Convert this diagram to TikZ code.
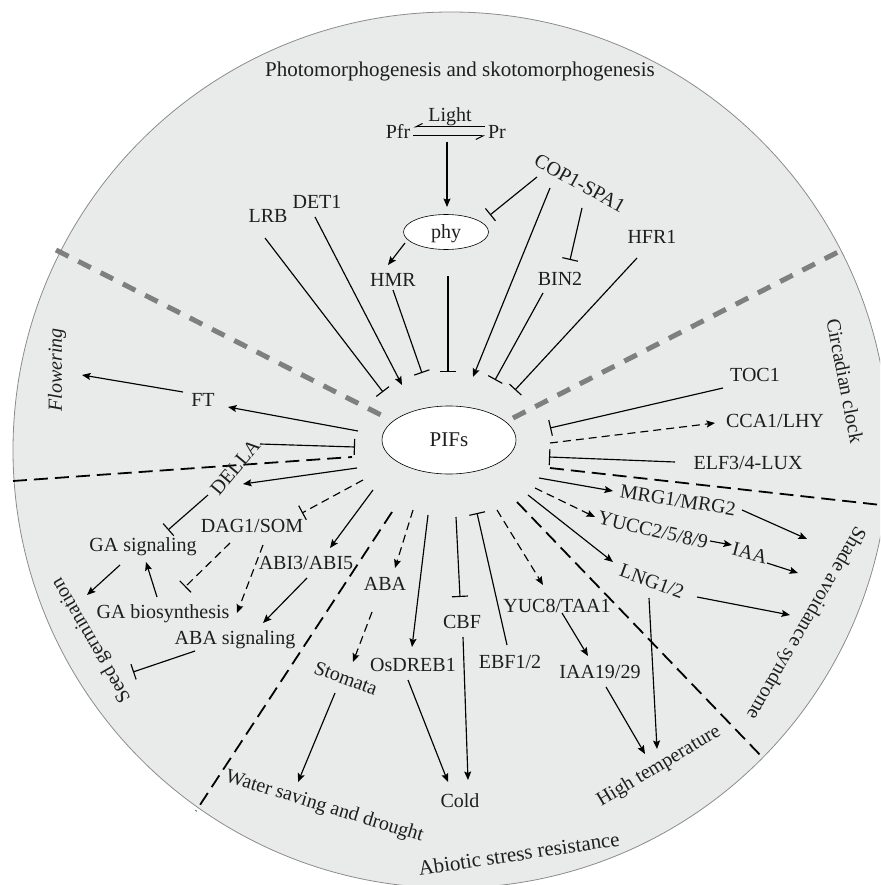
\documentclass[tikz,border=0pt]{standalone}
\usepackage{fontspec}
\setmainfont{Liberation Serif}
\usetikzlibrary{arrows.meta,shapes.geometric}
\definecolor{bgc}{HTML}{E9EAEA}
\definecolor{rimc}{HTML}{8C8C8C}
\definecolor{grayd}{HTML}{7F7F7F}
\definecolor{txt}{HTML}{1E1E1E}
\begin{document}
\begin{tikzpicture}[x=1pt,y=-1pt,
  lbl/.style={font=\fontsize{20pt}{24pt}\selectfont, text=txt, inner sep=3pt, text height=13.5pt, text depth=0pt},
  oval/.style={ellipse, draw=black, line width=0.6pt, fill=white, inner sep=0pt},
  act/.style={line width=1.15pt, -{Stealth[length=8.5pt,width=7pt,inset=1.5pt]}},
  inh/.style={line width=1.15pt, -{Bar[width=16pt]}},
  dact/.style={act, dash pattern=on 8pt off 5pt},
  dinh/.style={inh, dash pattern=on 8pt off 5pt},
  sector/.style={line width=5pt, draw=grayd, dash pattern=on 14pt off 11pt},
  divider/.style={line width=1.8pt, dash pattern=on 14pt off 7pt},
  harp/.style={line width=1pt, -{Straight Barb[right,length=7pt,width=7pt]}}
]
\useasboundingbox (0,0) rectangle (880,885);

% ---- named end points of connectors ----
\foreach \n/\x/\y in {
 eqm/447/142, phyIn/447/207, copA/537/177, copB/490/215, copC/550/188, pCOP/473/377,
 copD/582/208, binT/570/260, phyA/405/243, hmrT/388/265, hmrA/393/290, pHMR/422/373,
 phyB/448/276, pPHY/448/372, detA/315/217, pDET/402/385, lrbA/265/238, pLRB/383/392,
 binA/543/293, pBIN/495/380, hfrA/637/258, pHFR/515/390,
 tocA/723/388, pTOC/550/428, pCCA/550/443, ccaT/715/423, elfA/675/462, pELF/549/457,
 pMRG/539/478, mrgT/613/491, mrgA/742/510, shA/807/539, pYUCC/535/488, yuccT/595/517,
 yuccA/710/541, iaaT/732/545, iaaA/767/563, shB/798/573, pLNG/528/495, lngT/613/562,
 lngA/697/597, shC/790/615, pYUC8/497/510, yuc8T/543/585, yuc8A/562/613, iaa19T/588/656,
 iaa19A/606/687, htA/645/754, lngB/649/598, htB/657/749,
 ebfA/507/645, pEBF/477/513, pCBF/456/517, cbfT/460/597, cbfA/463/637, coldA/468/780,
 pDREB/428/515, drebT/412/647, drebA/408/680, coldB/448/782,
 pABA/413/510, abaT/395/568, abaA/372/612, stoT/353/662, stoA/335/693, waterT/298/782,
 pABI/373/490, abiT/330/548, abiA/307/578, abasT/263/623, abasA/195/651, seedT/133/672,
 pDAG/363/480, dagT/302/513, dagA/230/543, gabT/185/587, dagB/263/545, gabU/237/613,
 gabA/157/597, gasT/146/562, gasA/120/565, seedU/87/595, dellaA/208/495, gasU/168/530,
 pFT/358/431, ftT/228/407, ftA/183/392, flT/82/375, dellaB/260/444, pDELLA/355/447,
 pDELLB/357/468, dellaT/243/484,
 g1a/56/250, g1b/387/418, g2a/513/418, g2b/842/250,
 d1a/13/481, d1b/352/457, d2a/550/468, d2b/890/506, d3a/392/512, d3b/196/811,
 d4a/517/502, d4b/764/759}
 \coordinate (\n) at (\x,\y);

\begin{scope}
\clip (0,0) rectangle (880,885);
\fill[bgc] (451,450) circle[radius=438];
\draw[rimc, line width=0.8pt] (451,450) circle[radius=438];
% sector boundaries
\draw[sector] (g1a) -- (g1b);
\draw[sector] (g2a) -- (g2b);
\draw[divider] (d1a) -- (d1b);
\draw[divider] (d2a) -- (d2b);
\draw[divider] (d3a) -- (d3b);
\draw[divider] (d4a) -- (d4b);
\end{scope}

% ---- nodes ----
\node[lbl, font=\fontsize{21pt}{25pt}\selectfont] (title) at (460,70) {Photomorphogenesis and skotomorphogenesis};
\node[lbl] (Light) at (450,115) {Light};
\node[lbl] (Pfr) at (398,132) {Pfr};
\node[lbl] (Pr) at (497,132) {Pr};
\node[lbl, oval, minimum width=85pt, minimum height=35pt] (phy) at (446,232) {phy};
\node[lbl, oval, minimum width=134pt, minimum height=68pt, font=\fontsize{21pt}{25pt}\selectfont] (PIFs) at (449,440) {PIFs};
\node[lbl, rotate=-29] (COP) at (580,183) {COP1-SPA1};
\node[lbl] (DET) at (317,202) {DET1};
\node[lbl] (LRB) at (268,216) {LRB};
\node[lbl] (HMR) at (393,280) {HMR};
\node[lbl] (BIN) at (560,279) {BIN2};
\node[lbl] (HFR) at (652,237) {HFR1};
\node[lbl] (FT) at (203,400) {FT};
\node[lbl, rotate=50] (DELLA) at (235,467) {DELLA};
\node[lbl, rotate=90, font=\fontsize{20pt}{24pt}\selectfont\itshape] (Flower) at (55,370) {Flowering};
\node[lbl] (GAsig) at (143,545) {GA signaling};
\node[lbl] (DAG) at (252,526) {DAG1/SOM};
\node[lbl] (GAbio) at (163,612) {GA biosynthesis};
\node[lbl] (ABI) at (306,563) {ABI3/ABI5};
\node[lbl] (ABAsig) at (235,638) {ABA signaling};
\node[lbl, rotate=120] (Seed) at (90,641) {Seed germination};
\node[lbl] (ABA) at (385,584) {ABA};
\node[lbl, rotate=-20] (Stomata) at (346,678) {Stomata};
\node[lbl, rotate=-17] (Water) at (325,805) {Water saving and drought};
\node[lbl] (DREB) at (413,665) {OsDREB1};
\node[lbl] (CBF) at (462,622) {CBF};
\node[lbl] (EBF) at (510,662) {EBF1/2};
\node[lbl] (Cold) at (460,801) {Cold};
\node[lbl] (YUC8) at (557,606) {YUC8/TAA1};
\node[lbl] (IAA19) at (600,672) {IAA19/29};
\node[lbl, rotate=31] (HighT) at (658,765) {High temperature};
\node[lbl, rotate=-20] (LNG) at (652,581) {LNG1/2};
\node[lbl, rotate=-9] (MRG) at (678,500) {MRG1/MRG2};
\node[lbl, rotate=-13] (YUCC) at (653,530) {YUCC2/5/8/9};
\node[lbl, rotate=-15] (IAA) at (750,553) {IAA};
\node[lbl] (TOC) at (755,375) {TOC1};
\node[lbl] (CCA) at (775,421) {CCA1/LHY};
\node[lbl] (ELF) at (748,463) {ELF3/4-LUX};
\node[lbl, rotate=-79] (Circ) at (845,381) {Circadian clock};
\node[lbl, rotate=-120] (Shade) at (807,624) {Shade avoidance syndrome};
\node[lbl, rotate=8.5, font=\fontsize{21pt}{25pt}\selectfont] (Abiotic) at (519,854) {Abiotic stress resistance};

% ---- connectors ----
\draw[harp] ([yshift=5pt]Pr.west) -- ([yshift=5pt]Pfr.east);
\draw[harp] ([yshift=-4pt]Pfr.east) -- ([yshift=-4pt]Pr.west);
\draw[act] (eqm) -- (phyIn);
\draw[inh] (copA) -- (copB);
\draw[act] (copC) -- (pCOP);
\draw[inh] (copD) -- (binT);
\draw[act] (phyA) -- (hmrT);
\draw[inh] (hmrA) -- (pHMR);
\draw[inh] (phyB) -- (pPHY);
\draw[act] (detA) -- (pDET);
\draw[inh] (lrbA) -- (pLRB);
\draw[inh] (binA) -- (pBIN);
\draw[inh] (hfrA) -- (pHFR);
% circadian
\draw[inh] (tocA) -- (pTOC);
\draw[dact] (pCCA) -- (ccaT);
\draw[inh] (elfA) -- (pELF);
% shade
\draw[act] (pMRG) -- (mrgT);
\draw[act] (mrgA) -- (shA);
\draw[dact] (pYUCC) -- (yuccT);
\draw[act] (yuccA) -- (iaaT);
\draw[act] (iaaA) -- (shB);
\draw[act] (pLNG) -- (lngT);
\draw[act] (lngA) -- (shC);
% high temperature
\draw[dact] (pYUC8) -- (yuc8T);
\draw[act] (yuc8A) -- (iaa19T);
\draw[act] (iaa19A) -- (htA);
\draw[act] (lngB) -- (htB);
% cold
\draw[inh] (ebfA) -- (pEBF);
\draw[inh] (pCBF) -- (cbfT);
\draw[act] (cbfA) -- (coldA);
\draw[act] (pDREB) -- (drebT);
\draw[act] (drebA) -- (coldB);
% water
\draw[dact] (pABA) -- (abaT);
\draw[dact] (abaA) -- (stoT);
\draw[act] (stoA) -- (waterT);
% seed germination
\draw[act] (pABI) -- (abiT);
\draw[act] (abiA) -- (abasT);
\draw[inh] (abasA) -- (seedT);
\draw[dinh] (pDAG) -- (dagT);
\draw[dinh] (dagA) -- (gabT);
\draw[dact] (dagB) -- (gabU);
\draw[act] (gabA) -- (gasT);
\draw[act] (gasA) -- (seedU);
\draw[inh] (dellaA) -- (gasU);
% flowering
\draw[act] (pFT) -- (ftT);
\draw[act] (ftA) -- (flT);
\draw[inh] (dellaB) -- (pDELLA);
\draw[act] (pDELLB) -- (dellaT);
\end{tikzpicture}
\end{document}
